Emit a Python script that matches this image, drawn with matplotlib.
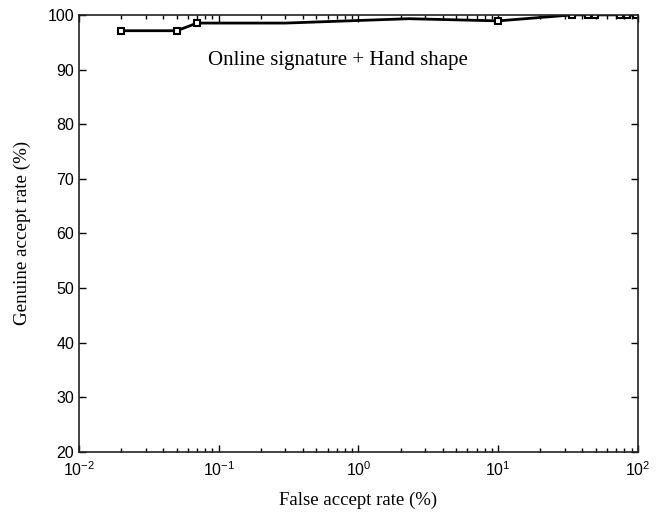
import matplotlib
matplotlib.use("Agg")
import matplotlib.pyplot as plt
from matplotlib.ticker import LogLocator, NullFormatter

# ROC-style curve
far = [0.02, 0.05, 0.07, 0.3, 2.3, 10, 34, 44, 49, 74, 83, 97]
gar = [97.1, 97.1, 98.5, 98.5, 99.3, 98.9, 100, 100, 100, 100, 100, 100]
marked = [0, 1, 2, 5, 6, 7, 8, 9, 10, 11]

yticks = list(range(20, 101, 10))

fig = plt.figure(figsize=(6.59, 5.13), dpi=100)
ax = fig.add_axes([0.12, 0.119, 0.848, 0.852])

ax.plot(far, gar, "-", color="black", linewidth=2,
        marker="s", markevery=marked, markersize=4.5,
        markerfacecolor="white", markeredgecolor="black", markeredgewidth=1.5)

ax.set_xscale("log")
ax.set_xlim(1e-2, 1e2)
ax.set_ylim(20, 100)
ax.set_yticks(yticks)
ax.xaxis.set_minor_locator(LogLocator(base=10, subs=range(2, 10)))
ax.xaxis.set_minor_formatter(NullFormatter())

ax.tick_params(which="both", direction="in", top=True, right=True,
               labelsize=11.5, width=1)
ax.tick_params(which="major", length=5)
ax.tick_params(which="minor", length=3)
ax.tick_params(axis="x", pad=6)
for lab in ax.get_xticklabels() + ax.get_yticklabels():
    lab.set_family("Liberation Sans")
for s in ax.spines.values():
    s.set_linewidth(1.2)
    s.set_color("#222222")

ax.set_xlabel("False accept rate (%)", fontsize=13.5, family="Liberation Serif",
              labelpad=9)
ax.set_ylabel("Genuine accept rate (%)", fontsize=13.7, family="Liberation Serif",
              labelpad=12)

ax.text(0.71, 91.6, "Online signature + Hand shape", fontsize=15,
        family="Liberation Serif", ha="center", va="center")

fig.savefig("out.png", dpi=100)
